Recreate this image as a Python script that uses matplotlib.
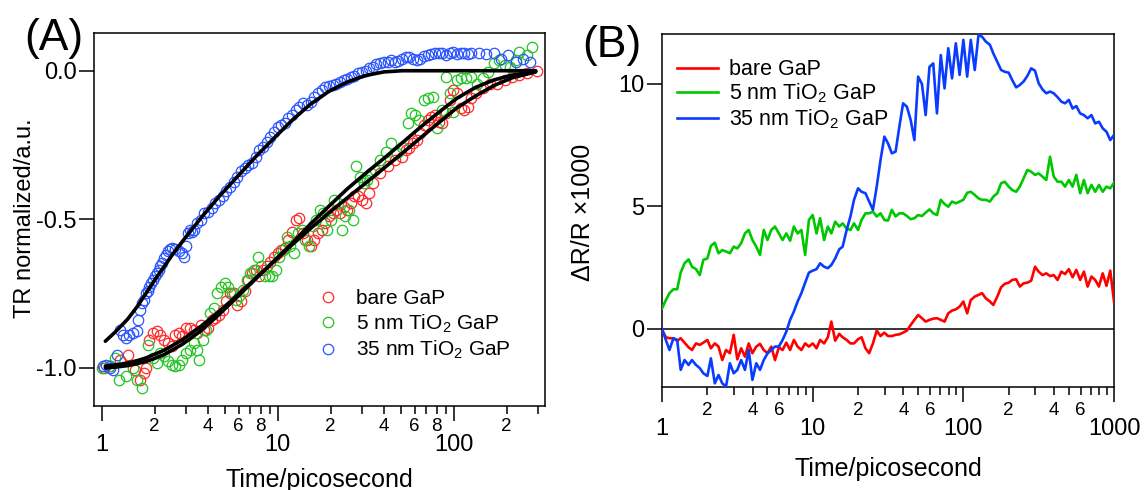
import numpy as np
import matplotlib
matplotlib.use('Agg')
import matplotlib.pyplot as plt
from matplotlib.ticker import FixedLocator, FuncFormatter

plt.rcParams['font.family'] = ['Liberation Sans', 'DejaVu Sans']
plt.rcParams['mathtext.fontset'] = 'custom'
plt.rcParams['mathtext.rm'] = 'Liberation Sans'
plt.rcParams['mathtext.it'] = 'Liberation Sans:italic'
plt.rcParams['axes.unicode_minus'] = False

# ---------------- Panel A data ----------------
labels = ['bare GaP', '5 nm TiO$_2$ GaP', '35 nm TiO$_2$ GaP']

tA_bare = [1.03, 1.11, 1.28, 1.41, 1.55, 1.66, 1.74, 1.79, 1.87, 1.96, 2.06, 2.16, 2.27, 2.38, 2.50, 2.62, 2.75, 2.88,
           3.02, 3.17, 3.33, 3.49, 3.66, 3.84, 4.03, 4.23, 4.43, 4.65, 4.88, 5.12, 5.37, 5.63, 5.91, 6.20, 6.50, 6.82,
           7.15, 7.51, 7.87, 8.26, 8.66, 9.09, 9.53, 10.0, 10.5, 11.0, 11.5, 12.1, 12.7, 13.3, 14.0, 14.7, 15.4, 16.1,
           16.9, 17.8, 18.6, 19.6, 20.5, 21.5, 22.6, 23.7, 24.8, 26.1, 27.3, 28.7, 30.1, 31.6, 33.1, 34.7, 38.2, 42.1,
           46.3, 50.9, 53.4, 56.0, 58.8, 61.7, 64.7, 67.9, 71.2, 74.7, 78.3, 82.2, 86.2, 90.4, 94.9, 99.5, 104, 110,
           115, 121, 126, 133, 146, 161, 177, 195, 214, 236, 259, 299]
yA_bare = [-1.0, -0.994, -0.972, -0.955, -1.006, -1.039, -1.017, -1.0, -0.905, -0.882, -0.877, -0.888, -0.905, -0.916,
           -0.927, -0.888, -0.882, -0.894, -0.866, -0.866, -0.871, -0.882, -0.854, -0.871, -0.866, -0.838, -0.832,
           -0.821, -0.804, -0.776, -0.748, -0.748, -0.787, -0.776, -0.742, -0.703, -0.681, -0.670, -0.692, -0.670,
           -0.658, -0.642, -0.625, -0.614, -0.602, -0.597, -0.569, -0.541, -0.502, -0.496, -0.546, -0.569, -0.591,
           -0.569, -0.546, -0.535, -0.513, -0.490, -0.479, -0.468, -0.479, -0.457, -0.468, -0.446, -0.423, -0.423,
           -0.434, -0.446, -0.412, -0.378, -0.345, -0.322, -0.300, -0.289, -0.267, -0.261, -0.244, -0.233, -0.211,
           -0.183, -0.166, -0.155, -0.149, -0.171, -0.177, -0.143, -0.099, -0.065, -0.076, -0.127, -0.132, -0.121,
           -0.093, -0.076, -0.059, -0.043, -0.043, -0.031, -0.022, -0.015, -0.009, 0.0]

tA_5nm = [1.0, 1.11, 1.19, 1.25, 1.37, 1.51, 1.58, 1.70, 1.83, 1.96, 2.06, 2.16, 2.27, 2.38, 2.50, 2.62, 2.75, 2.88,
          3.02, 3.17, 3.33, 3.49, 3.57, 3.75, 3.93, 4.13, 4.33, 4.54, 4.76, 5.0, 5.24, 5.50, 5.77, 6.05, 6.35, 6.66,
          6.99, 7.33, 7.69, 8.07, 8.46, 8.87, 9.31, 9.77, 10.2, 10.7, 11.3, 11.8, 12.4, 13.0, 13.7, 14.3, 15.0, 15.8,
          16.5, 17.3, 18.2, 19.1, 20.0, 21.0, 22.0, 23.1, 24.2, 25.4, 26.7, 28.0, 29.4, 30.8, 32.3, 33.9, 35.6, 38.2,
          41.0, 44.1, 47.4, 50.9, 54.7, 57.4, 60.2, 63.2, 67.9, 71.2, 76.5, 80.2, 86.2, 90.4, 94.9, 99.5, 104, 110,
          118, 126, 136, 146, 157, 169, 181, 195, 209, 225, 236, 259, 279]
yA_5nm = [-1.0, -0.994, -0.966, -1.039, -1.028, -1.0, -1.039, -1.067, -0.922, -0.966, -0.983, -0.950, -0.961, -0.978,
          -0.989, -0.994, -0.989, -0.972, -0.950, -0.938, -0.916, -0.938, -0.972, -0.905, -0.871, -0.815, -0.798,
          -0.748, -0.726, -0.714, -0.726, -0.748, -0.770, -0.759, -0.737, -0.703, -0.681, -0.670, -0.625, -0.658,
          -0.692, -0.692, -0.692, -0.670, -0.625, -0.602, -0.558, -0.591, -0.614, -0.546, -0.535, -0.569, -0.591,
          -0.524, -0.502, -0.468, -0.479, -0.535, -0.502, -0.434, -0.446, -0.535, -0.490, -0.468, -0.502, -0.322,
          -0.356, -0.378, -0.367, -0.345, -0.334, -0.300, -0.272, -0.244, -0.278, -0.255, -0.177, -0.143, -0.149,
          -0.166, -0.099, -0.093, -0.087, -0.194, -0.132, -0.020, -0.076, -0.138, -0.031, -0.026, -0.026, -0.020,
          -0.043, -0.026, -0.003, 0.025, 0.036, 0.019, 0.013, 0.036, 0.064, 0.053, 0.081]

tA_35nm = [1.02, 1.06, 1.11, 1.16, 1.22, 1.28, 1.33, 1.37, 1.44, 1.51, 1.58, 1.62, 1.66, 1.70, 1.74, 1.79, 1.83, 1.87,
           1.92, 1.96, 2.01, 2.06, 2.11, 2.16, 2.21, 2.27, 2.32, 2.38, 2.44, 2.50, 2.62, 2.75, 2.88, 2.95, 3.02, 3.10,
           3.17, 3.25, 3.33, 3.49, 3.66, 3.84, 4.03, 4.23, 4.43, 4.65, 4.88, 5.12, 5.37, 5.63, 5.91, 6.20, 6.50, 6.82,
           7.15, 7.51, 7.87, 8.26, 8.66, 9.09, 9.53, 10.0, 10.5, 11.0, 11.5, 12.1, 12.7, 13.3, 14.0, 14.7, 15.4, 16.1,
           16.9, 17.8, 18.6, 19.6, 20.5, 21.5, 22.6, 23.7, 24.8, 26.1, 27.3, 28.7, 30.1, 31.6, 33.1, 34.7, 36.4, 38.2,
           40.1, 42.1, 44.1, 46.3, 48.5, 50.9, 53.4, 56.0, 58.8, 61.7, 64.7, 67.9, 71.2, 74.7, 78.3, 82.2, 86.2, 90.4,
           94.9, 99.5, 104, 110, 115, 121, 126, 139, 153, 169, 185, 204, 225, 247, 272]
yA_35nm = [-0.994, -0.989, -1.0, -1.008, -0.955, -0.871, -0.888, -0.899, -0.888, -0.882, -0.877, -0.838, -0.804, -0.782,
           -0.770, -0.748, -0.742, -0.726, -0.714, -0.703, -0.692, -0.681, -0.670, -0.658, -0.647, -0.630, -0.619,
           -0.608, -0.600, -0.597, -0.600, -0.608, -0.614, -0.625, -0.591, -0.546, -0.535, -0.541, -0.535, -0.513,
           -0.502, -0.479, -0.474, -0.462, -0.446, -0.434, -0.423, -0.406, -0.390, -0.373, -0.356, -0.339, -0.328,
           -0.317, -0.311, -0.289, -0.267, -0.255, -0.239, -0.222, -0.205, -0.188, -0.183, -0.177, -0.160, -0.149,
           -0.132, -0.121, -0.110, -0.115, -0.104, -0.087, -0.076, -0.065, -0.054, -0.052, -0.048, -0.043, -0.037,
           -0.031, -0.029, -0.022, -0.018, -0.009, -0.003, 0.0, 0.008, 0.013, 0.022, 0.027, 0.030, 0.030, 0.036, 0.030,
           0.034, 0.038, 0.045, 0.047, 0.041, 0.036, 0.041, 0.049, 0.053, 0.056, 0.058, 0.060, 0.058, 0.053, 0.060,
           0.064, 0.056, 0.060, 0.058, 0.056, 0.058, 0.058, 0.056, 0.058, 0.041, 0.053, 0.030, 0.041, 0.030]

fit_t = [1.05, 1.2, 1.41, 1.6, 1.79, 2.0, 2.27, 2.55, 2.88, 3.66, 4.65, 5.91, 7.51, 9.53, 12.1, 15.4, 19.6, 24.8,
         31.6, 40.1, 50.9, 64.7, 82.2, 104, 133, 169, 214, 292]
fit_bare = [-0.994, -0.99, -0.983, -0.975, -0.966, -0.954, -0.94, -0.923, -0.905, -0.86, -0.81, -0.755, -0.698,
            -0.642, -0.585, -0.53, -0.478, -0.428, -0.378, -0.328, -0.278, -0.226, -0.175, -0.125, -0.085, -0.05,
            -0.024, -0.004]
fit_5nm = [-1.0, -0.997, -0.992, -0.985, -0.978, -0.968, -0.955, -0.938, -0.92, -0.875, -0.82, -0.76, -0.70, -0.64,
           -0.58, -0.515, -0.455, -0.398, -0.345, -0.295, -0.243, -0.19, -0.14, -0.093, -0.056, -0.031, -0.015,
           -0.002]
fit_35nm = [-0.91, -0.878, -0.835, -0.792, -0.748, -0.705, -0.658, -0.615, -0.574, -0.496, -0.423, -0.356, -0.289,
            -0.227, -0.166, -0.112, -0.069, -0.038, -0.016, -0.004, 0.0, 0.0, 0.0, 0.0, 0.0, 0.0, 0.0, 0.0]

# ---------------- Panel B data ----------------
tB = [1.00, 1.06, 1.12, 1.19, 1.26, 1.33, 1.41, 1.50, 1.58, 1.68, 1.78, 1.88, 2.00, 2.11, 2.24, 2.37, 2.51, 2.66, 2.82,
      2.99, 3.16, 3.35, 3.55, 3.76, 3.98, 4.22, 4.47, 4.73, 5.01, 5.31, 5.62, 5.96, 6.31, 6.68, 7.08, 7.50, 7.94, 8.41,
      8.91, 9.44, 10.0, 10.6, 11.2, 11.9, 12.6, 13.3, 14.1, 15.0, 15.8, 16.8, 17.8, 18.8, 20.0, 21.1, 22.4, 23.7, 25.1,
      26.6, 28.2, 29.9, 31.6, 33.5, 35.5, 37.6, 39.8, 42.2, 44.7, 47.3, 50.1, 53.1, 56.2, 59.6, 63.1, 66.8, 70.8, 75.0,
      79.4, 84.1, 89.1, 94.4, 100, 106, 112, 119, 126, 133, 141, 150, 158, 168, 178, 188, 200, 211, 224, 237, 251, 266,
      282, 299, 316, 335, 355, 376, 398, 422, 447, 473, 501, 531, 562, 596, 631, 668, 708, 750, 794, 841, 891, 944,
      1000]
yB_bare = [-0.04, -0.34, -0.38, -0.38, -0.48, -0.38, -0.56, -0.75, -0.86, -0.59,
           -0.65, -0.56, -0.45, -0.79, -0.59, -0.72, -1.27, -0.86, -0.99, -0.24,
           -1.24, -0.79, -1.13, -0.59, -0.99, -0.72, -0.61, -0.86, -0.99, -0.72,
           -1.27, -0.75, -0.86, -0.56, -0.86, -0.45, -0.72, -0.86, -0.59, -0.72,
           -0.59, -0.79, -0.45, -0.59, -0.34, 0.3, -0.48, -0.2, -0.34, -0.45,
           -0.59, -0.59, -0.42, -0.34, -0.79, -0.99, -0.59, -0.07, -0.29, -0.15,
           -0.29, -0.29, -0.24, -0.22, -0.15, -0.07, 0.16, 0.37, 0.57, 0.44,
           0.3, 0.37, 0.42, 0.44, 0.37, 0.3, 0.64, 0.75, 0.8, 0.91,
           1.12, 0.64, 1.18, 1.32, 1.39, 1.46, 1.25, 1.12, 0.98, 1.32,
           1.7, 1.84, 1.89, 2.0, 2.03, 1.73, 1.86, 1.89, 1.97, 2.54,
           2.34, 2.2, 2.27, 2.16, 2.2, 2.0, 2.34, 2.24, 2.44, 2.11,
           2.41, 2.0, 2.34, 1.73, 2.14, 2.0, 1.73, 2.27, 1.76, 2.38,
           1.12]
yB_5nm = [0.84, 1.18, 1.46, 1.62, 1.62, 2.30, 2.68, 2.84, 2.54, 2.44,
          2.2, 2.82, 2.88, 3.39, 3.52, 3.09, 3.22, 3.16, 3.09, 3.36,
          3.29, 3.5, 3.9, 4.04, 3.63, 3.36, 3.02, 4.04, 3.63, 4.04,
          4.18, 3.9, 3.63, 3.9, 3.6, 4.18, 3.9, 4.04, 3.02, 4.45,
          4.65, 3.9, 4.52, 3.63, 4.18, 3.9, 4.38, 4.18, 4.31, 4.1,
          4.04, 4.31, 4.04, 4.45, 4.72, 4.72, 4.79, 4.59, 4.72, 4.45,
          4.42, 4.86, 4.59, 4.72, 4.72, 4.61, 4.48, 4.52, 4.65, 4.61,
          4.75, 4.88, 4.72, 4.65, 5.27, 5.1, 4.99, 5.2, 5.13, 5.2,
          5.27, 5.56, 5.6, 5.47, 5.33, 5.27, 5.27, 5.2, 5.4, 5.54,
          5.95, 6.01, 5.81, 5.67, 5.6, 5.81, 6.15, 6.49, 6.42, 6.29,
          6.35, 6.22, 6.08, 7.03, 6.22, 6.01, 6.01, 5.81, 6.08, 5.81,
          6.29, 5.54, 6.08, 5.54, 5.88, 5.6, 5.88, 5.6, 5.81, 5.74,
          5.97]
yB_35nm = [0.0, -0.45, -0.86, -0.38, -0.45, -1.67, -1.27, -1.47, -1.27, -1.47,
           -1.6, -1.81, -1.92, -1.2, -2.22, -1.88, -2.22, -2.35, -1.4, -1.81,
           -1.67, -1.27, -1.67, -0.86, -2.08, -1.4, -1.67, -1.27, -1.0, -0.86,
           -0.72, -0.72, -0.45, -0.11, 0.37, 0.71, 1.12, 1.46, 1.89, 2.30,
           2.38, 2.44, 2.68, 2.54, 2.48, 2.61, 2.88, 3.25, 3.36, 4.04,
           4.59, 5.27, 5.74, 5.6, 5.54, 5.2, 4.86, 5.81, 6.9, 7.85,
           7.58, 7.17, 7.24, 8.26, 9.21, 9.07, 8.53, 7.71, 10.3, 10.0,
           8.73, 10.7, 10.84, 8.8, 11.18, 9.82, 11.46, 10.23, 11.66, 10.37,
           11.8, 10.3, 11.8, 10.57, 12.0, 11.93, 11.73, 11.6, 11.25, 10.9,
           10.57, 10.5, 10.46, 10.16, 9.86, 9.96, 10.1, 10.33, 10.64, 10.54,
           10.03, 9.78, 9.62, 9.69, 9.62, 9.46, 9.28, 9.21, 9.35, 9.0,
           9.1, 8.8, 8.73, 8.6, 8.73, 8.39, 8.46, 8.19, 8.05, 7.71,
           7.92]

colors_pts = ['#ff2a2a', '#22c522', '#2a55ff']
colors_lines = ['#ff0000', '#00c800', '#0a3cff']

# ---------------- Figure ----------------
fig = plt.figure(figsize=(11.46, 4.90), dpi=100)
axA = fig.add_axes([0.082, 0.1714, 0.3936, 0.7613])
axB = fig.add_axes([0.5777, 0.2102, 0.3944, 0.7204])

# Panel A
for t, y, c, lab in zip([tA_bare, tA_5nm, tA_35nm], [yA_bare, yA_5nm, yA_35nm], colors_pts, labels):
    axA.plot(t, y, 'o', mfc='none', mec=c, ms=7.5, mew=0.9, label=lab, zorder=2)
for fy in [fit_bare, fit_5nm, fit_35nm]:
    axA.plot(fit_t, fy, '-', color='black', lw=2.6, zorder=3, solid_joinstyle='round', solid_capstyle='round')

axA.set_xscale('log')
axA.set_xlim(0.905, 330)
axA.set_ylim(-1.128, 0.127)
axA.set_yticks([-1.0, -0.5, 0.0])
axA.yaxis.set_major_formatter(FuncFormatter(lambda v, p: '%.1f' % v))
axA.xaxis.set_major_locator(FixedLocator([1, 10, 100]))
axA.xaxis.set_major_formatter(FuncFormatter(lambda v, p: '%d' % round(v)))
minA = [m * d for d in (1, 10) for m in range(2, 10)] + [200, 300]
axA.xaxis.set_minor_locator(FixedLocator(minA))
labA = {2, 4, 6, 8, 20, 40, 60, 80, 200}


def fmtA(v, p):
    r = int(round(v))
    if r in labA:
        return str(r)[0]
    return ''


axA.xaxis.set_minor_formatter(FuncFormatter(fmtA))

# Panel B
for y, c, lab in zip([yB_bare, yB_5nm, yB_35nm], colors_lines, labels):
    axB.plot(tB, y, '-', color=c, lw=1.9, label=lab, zorder=3)
axB.axhline(0, color='black', lw=1.1, zorder=2)
axB.set_xscale('log')
axB.set_xlim(1, 1000)
axB.set_ylim(-2.37, 12.04)
axB.set_yticks([0, 5, 10])
axB.yaxis.set_major_formatter(FuncFormatter(lambda v, p: '%d' % round(v)))
axB.xaxis.set_major_locator(FixedLocator([1, 10, 100, 1000]))
axB.xaxis.set_major_formatter(FuncFormatter(lambda v, p: '%d' % round(v)))
minB = [m * d for d in (1, 10, 100) for m in range(2, 10)]
axB.xaxis.set_minor_locator(FixedLocator(minB))
labB = {2, 4, 6, 20, 40, 60, 200, 400, 600}


def fmtB(v, p):
    r = int(round(v))
    if r in labB:
        return str(r)[0]
    return ''


axB.xaxis.set_minor_formatter(FuncFormatter(fmtB))

for ax in (axA, axB):
    for s in ax.spines.values():
        s.set_linewidth(1.1)
    ax.tick_params(which='both', direction='out', top=False, right=False, width=1.1, color='black')
    ax.tick_params(axis='y', which='major', length=11, pad=1.5, labelsize=17)
    ax.tick_params(axis='x', which='major', length=11, labelsize=17)
    ax.tick_params(axis='x', which='minor', length=5.5, labelsize=13.5)
    ax.tick_params(axis='y', which='minor', left=False)

axA.tick_params(axis='x', which='major', pad=9)
axA.tick_params(axis='x', which='minor', pad=3.0)
axB.tick_params(axis='x', which='major', pad=11)
axB.tick_params(axis='x', which='minor', pad=5.0)

axA.set_xlabel('Time/picosecond', fontsize=18)
axA.xaxis.set_label_coords(0.5, -0.166)
axA.set_ylabel('TR normalized/a.u.', fontsize=17)
axA.yaxis.set_label_coords(-0.128, 0.504)

axB.set_xlabel('Time/picosecond', fontsize=18)
axB.xaxis.set_label_coords(0.5, -0.198)
axB.set_ylabel('ΔR/R ×1000', fontsize=18)
axB.yaxis.set_label_coords(-0.148, 0.496)

axA.legend(loc='upper left', bbox_to_anchor=(0.495, 0.313), frameon=False, fontsize=15,
           handlelength=1.0, handletextpad=0.85, labelspacing=0.2, borderaxespad=0, borderpad=0)
axB.legend(loc='upper left', bbox_to_anchor=(0.033, 0.929), frameon=False, fontsize=15.5,
           handlelength=1.9, handletextpad=0.5, labelspacing=0.08, borderaxespad=0, borderpad=0)

fig.text(0.021, 0.898, '(A)', fontsize=32, va='baseline', ha='left')
fig.text(0.508, 0.884, '(B)', fontsize=32, va='baseline', ha='left')

fig.savefig('out.png', dpi=100)
